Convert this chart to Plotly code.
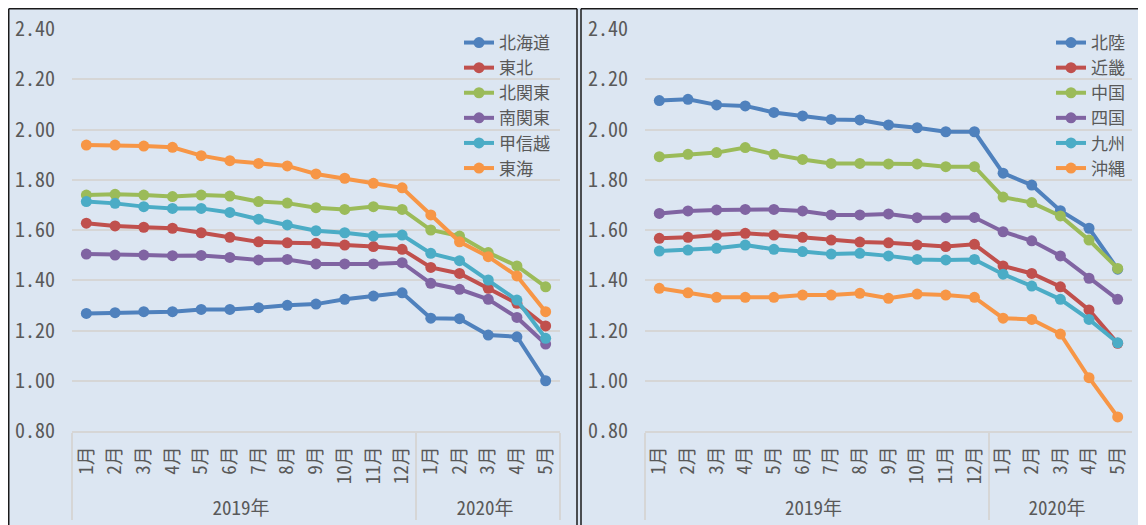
import plotly.graph_objects as go

months = ["1月", "2月", "3月", "4月", "5月", "6月", "7月", "8月", "9月", "10月", "11月", "12月",
          "1月", "2月", "3月", "4月", "5月"]
years = ["2019年"] * 12 + ["2020年"] * 5

# Left panel
left_names = ["北海道", "東北", "北関東", "南関東", "甲信越", "東海"]
hokkaido = [1.268, 1.271, 1.275, 1.275, 1.284, 1.284, 1.291, 1.300, 1.305, 1.324, 1.337, 1.350, 1.249, 1.247, 1.182, 1.175, 1.000]
tohoku = [1.627, 1.616, 1.611, 1.607, 1.589, 1.571, 1.553, 1.549, 1.547, 1.540, 1.534, 1.523, 1.451, 1.427, 1.368, 1.308, 1.218]
kitakanto = [1.739, 1.742, 1.739, 1.733, 1.739, 1.735, 1.713, 1.707, 1.689, 1.682, 1.693, 1.682, 1.600, 1.576, 1.510, 1.457, 1.374]
minamikanto = [1.504, 1.500, 1.500, 1.498, 1.499, 1.491, 1.481, 1.483, 1.465, 1.465, 1.465, 1.470, 1.388, 1.364, 1.324, 1.252, 1.146]
koshinetsu = [1.713, 1.706, 1.693, 1.686, 1.686, 1.670, 1.643, 1.620, 1.597, 1.589, 1.576, 1.580, 1.507, 1.478, 1.401, 1.321, 1.169]
tokai = [1.938, 1.938, 1.934, 1.929, 1.896, 1.876, 1.865, 1.855, 1.823, 1.806, 1.786, 1.768, 1.660, 1.553, 1.494, 1.417, 1.275]

# Right panel
right_names = ["北陸", "近畿", "中国", "四国", "九州", "沖縄"]
hokuriku = [2.115, 2.120, 2.098, 2.094, 2.068, 2.054, 2.040, 2.038, 2.018, 2.007, 1.991, 1.991, 1.826, 1.779, 1.677, 1.607, 1.444]
kinki = [1.567, 1.571, 1.580, 1.587, 1.580, 1.571, 1.560, 1.552, 1.549, 1.540, 1.534, 1.543, 1.457, 1.427, 1.374, 1.282, 1.149]
chugoku = [1.892, 1.901, 1.908, 1.928, 1.901, 1.881, 1.865, 1.865, 1.863, 1.863, 1.852, 1.852, 1.731, 1.709, 1.656, 1.560, 1.447]
shikoku = [1.666, 1.676, 1.680, 1.682, 1.682, 1.676, 1.660, 1.660, 1.664, 1.649, 1.649, 1.650, 1.593, 1.557, 1.497, 1.408, 1.324]
kyushu = [1.516, 1.520, 1.527, 1.540, 1.523, 1.514, 1.504, 1.507, 1.497, 1.483, 1.481, 1.483, 1.424, 1.377, 1.324, 1.244, 1.151]
okinawa = [1.368, 1.350, 1.332, 1.332, 1.332, 1.341, 1.341, 1.348, 1.328, 1.345, 1.341, 1.332, 1.249, 1.244, 1.186, 1.012, 0.856]

colors = ["#4F81BD", "#C0504D", "#9BBB59", "#8064A2", "#4BACC6", "#F79646"]
FONT = "Noto Sans Mono CJK JP, Noto Sans CJK JP"
TXT = "#595959"
BG = "#DCE6F2"
GRID = "#D6D6D6"

fig = go.Figure()
for name, vals, c in zip(left_names, [hokkaido, tohoku, kitakanto, minamikanto, koshinetsu, tokai], colors):
    fig.add_trace(go.Scatter(x=[years, months], y=vals, name=name, mode="lines+markers",
                             line=dict(color=c, width=4), marker=dict(color=c, size=11),
                             xaxis="x", yaxis="y", legend="legend"))
for name, vals, c in zip(right_names, [hokuriku, kinki, chugoku, shikoku, kyushu, okinawa], colors):
    fig.add_trace(go.Scatter(x=[years, months], y=vals, name=name, mode="lines+markers",
                             line=dict(color=c, width=4), marker=dict(color=c, size=11),
                             xaxis="x2", yaxis="y2", legend="legend2"))

W, H = 1146, 525
OFF = 8  # page offset of the figure div
T = 29 - OFF
PB = 431 - OFF
B = H - PB
ph = PB - T

def fx(px):
    return (px - OFF) / W

def fy(py):
    return (H - B - (py - OFF)) / ph

xcommon = dict(type="multicategory", range=[-0.5, 16.5], tickangle=-90, showgrid=False, showline=True,
               linecolor=GRID, linewidth=1.5, showdividers=True, dividercolor=GRID,
               dividerwidth=1.5, tickfont=dict(family=FONT, size=19, color=TXT),
               ticklabelstandoff=6, zeroline=False)
ycommon = dict(range=[0.8, 2.4], dtick=0.2, tickformat=".2f", showgrid=True, gridcolor=GRID,
               gridwidth=1.5, zeroline=False, showline=False,
               tickfont=dict(family=FONT, size=20, color=TXT), ticklabelstandoff=16)

fig.update_layout(
    width=W, height=H,
    margin=dict(l=0, r=0, t=T, b=B),
    paper_bgcolor=BG, plot_bgcolor=BG,
    xaxis=dict(domain=[fx(72), fx(560)], anchor="y", **xcommon),
    yaxis=dict(anchor="x", **ycommon),
    xaxis2=dict(domain=[fx(645), fx(1132)], anchor="y2", **xcommon),
    yaxis2=dict(anchor="x2", **ycommon),
    legend=dict(x=fx(459), y=fy(25), xanchor="left", yanchor="top", bgcolor="rgba(0,0,0,0)",
                font=dict(family=FONT, size=17, color=TXT), tracegroupgap=0),
    legend2=dict(x=fx(1051), y=fy(25), xanchor="left", yanchor="top", bgcolor="rgba(0,0,0,0)",
                 font=dict(family=FONT, size=17, color=TXT), tracegroupgap=0),
    showlegend=True,
)

BORDER = dict(color="#1a1a1a", width=1.5)
top = fy(OFF + 0.75)
bot = fy(560)
# left panel frame
fig.add_shape(type="line", xref="paper", yref="paper", x0=fx(OFF + 0.75), x1=fx(OFF + 0.75), y0=top, y1=bot, line=BORDER)
fig.add_shape(type="line", xref="paper", yref="paper", x0=fx(OFF + 0.75), x1=fx(577), y0=top, y1=top, line=BORDER)
fig.add_shape(type="line", xref="paper", yref="paper", x0=fx(577), x1=fx(577), y0=top, y1=bot, line=BORDER)
# right panel frame
fig.add_shape(type="line", xref="paper", yref="paper", x0=fx(581), x1=fx(581), y0=top, y1=bot, line=BORDER)
fig.add_shape(type="line", xref="paper", yref="paper", x0=fx(581), x1=fx(1160), y0=top, y1=top, line=BORDER)

fig.write_html("out.html")
